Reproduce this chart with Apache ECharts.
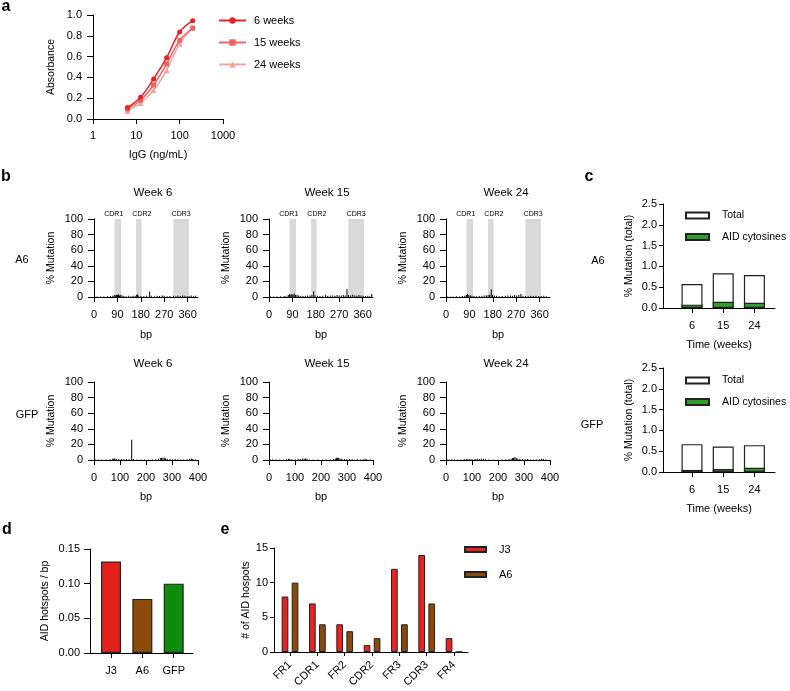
<!DOCTYPE html>
<html><head><meta charset="utf-8">
<script src="https://cdn.jsdelivr.net/npm/echarts@6/dist/echarts.min.js"></script>
<style>html,body{margin:0;padding:0;background:#fff}#c{width:790px;height:691px}</style>
</head><body><div id="c"></div>
<script>
// ---------- Panel a ----------
const iggConc = [6.25, 12.5, 25, 50, 100, 200];
const abs6w = [0.11, 0.21, 0.385, 0.59, 0.837, 0.945];
const abs15w = [0.096, 0.18, 0.327, 0.53, 0.756, 0.875];
const abs24w = [0.077, 0.154, 0.276, 0.468, 0.724, 0.875];
const weekNames = ['6 weeks', '15 weeks', '24 weeks'];

// ---------- Panel b (position bp, % mutation) ----------
const cdrRegions = [['CDR1', 79, 104], ['CDR2', 162, 183], ['CDR3', 305, 365]];
const bTicksA6 = [0, 90, 180, 270, 360];
const bTicksGFP = [0, 100, 200, 300, 400];
const a6w6 = [[4,0.8],[12,0.5],[25,0.6],[38,0.8],[52,1],[63,1.2],[72,1.5],[78,2.5],[82,2],[86,3],[90,2.5],[94,3.5],[98,2],[103,3],[108,2],[115,1.2],[124,1],[133,1.5],[142,1],[150,1.5],[158,1.2],[163,2.5],[167,3.5],[172,1.5],[180,1],[192,1.2],[203,1.5],[214,7],[220,1.5],[232,1],[243,1.5],[252,1.2],[262,1.8],[270,1.5],[281,1],[292,1.2],[306,1.5],[315,1],[323,1.8],[332,1.2],[341,2],[350,1.5],[358,1],[366,1.2],[374,1.8],[382,1],[390,1.5]];
const a6w15 = [[6,0.8],[18,0.6],[30,0.7],[45,1],[58,1.2],[66,1],[74,2.5],[79,3.5],[84,3],[88,4],[92,3],[97,4.5],[102,2.5],[108,3],[114,2],[122,1.5],[131,1.2],[140,1.5],[149,1.8],[158,2],[165,2.5],[172,7.5],[177,2],[186,1.5],[196,1.2],[207,1.5],[218,3],[226,1.2],[236,1.8],[245,2],[254,1.5],[262,2.5],[270,2],[278,1.8],[286,2.5],[293,2],[300,10],[306,2.5],[314,2],[322,3],[330,2],[338,1.5],[346,2.5],[354,2],[362,1.5],[371,1.2],[380,1.5],[388,1],[395,4]];
const a6w24 = [[5,0.8],[16,0.6],[28,0.8],[40,1],[52,0.8],[63,1.2],[72,1.5],[78,2.5],[83,4],[88,2.5],[94,2],[100,1.5],[108,1.2],[118,1],[128,1.2],[138,1.5],[147,1.8],[155,2],[162,2.5],[168,3],[174,10],[179,2.5],[186,2],[194,1.5],[204,1],[216,1.2],[228,1.5],[238,1.8],[248,2],[256,1.5],[264,2.5],[272,2],[280,2.5],[288,4],[296,1.5],[306,1.2],[316,1],[326,1.5],[336,1.2],[346,1.5],[356,1],[366,1.2],[376,1.5],[386,1]];
const gfpw6 = [[5,0.7],[18,0.6],[30,0.8],[48,0.5],[62,1],[72,1.5],[76,2],[80,1.8],[86,1.2],[95,1],[105,1.2],[115,1],[125,1.2],[135,1],[145,26],[152,1.2],[165,0.8],[180,0.6],[195,0.8],[210,0.6],[225,0.8],[238,1],[248,1.5],[255,2.5],[260,3],[265,2.8],[270,3],[275,2.2],[282,1.5],[292,1.2],[302,1],[312,1.2],[322,1],[332,0.8],[345,0.8],[358,1],[368,1.5],[374,1.8],[380,1.2],[390,0.8]];
const gfpw15 = [[6,0.8],[15,1],[28,0.6],[42,0.8],[55,0.6],[68,1.2],[75,1.5],[80,1.2],[88,1],[100,1],[112,1.5],[120,1.2],[128,1.8],[135,1.5],[140,2],[146,1.5],[155,0.8],[170,0.6],[188,0.6],[205,0.8],[220,0.6],[235,0.8],[248,1.2],[255,2],[260,3],[264,2.5],[268,3],[273,2],[280,1.5],[290,1.2],[300,1],[310,1.2],[320,1],[330,0.8],[340,1],[352,0.8],[362,1],[370,1.5],[376,1],[388,0.8]];
const gfpw24 = [[4,1],[12,0.8],[22,1],[32,0.6],[45,0.8],[58,0.6],[70,1.2],[78,1.5],[84,1.2],[92,1.5],[100,1],[112,1.2],[120,1.5],[128,1.2],[136,1.8],[144,1.5],[152,1],[165,0.6],[182,0.6],[200,0.8],[215,0.6],[230,1],[242,1.2],[250,1.5],[256,2.5],[260,3],[265,3.5],[270,2.5],[276,2],[284,1.5],[294,1.2],[304,1],[314,1.2],[324,0.8],[336,0.8],[348,0.6],[360,1],[368,1.5],[374,1.2],[384,0.8]];

// ---------- Panel c ----------
const timeWeeks = ['6', '15', '24'];
const a6Total = [0.577, 0.833, 0.793];
const a6Aid = [0.08, 0.152, 0.128];
const gfpTotal = [0.67, 0.61, 0.645];
const gfpAid = [0.05, 0.072, 0.1];

// ---------- Panel d ----------
const dCats = ['J3', 'A6', 'GFP'];
const dVals = [0.132, 0.078, 0.1];

// ---------- Panel e ----------
const eCats = ['FR1', 'CDR1', 'FR2', 'CDR2', 'FR3', 'CDR3', 'FR4'];
const eJ3 = [8, 7, 4, 1, 12, 14, 2];
const eA6 = [10, 4, 3, 2, 4, 7, 0];

const FONT = 'Liberation Sans, Arial, sans-serif';
const BLACK = '#000';

function yAx(g, min, max, interval, name, gap, fmt, margin, tickLen) {
  return {type: 'value', gridIndex: g, min, max, interval,
    axisLine: {show: true, onZero: false, lineStyle: {color: BLACK, width: 1}},
    axisTick: {show: true, length: tickLen, lineStyle: {color: BLACK}},
    splitLine: {show: false},
    axisLabel: {color: BLACK, fontSize: 11, fontFamily: FONT, margin, formatter: fmt},
    name, nameLocation: 'middle', nameGap: gap,
    nameTextStyle: {color: BLACK, fontSize: 10.5, fontFamily: FONT}};
}
function xValAx(g, min, max, ticks, fmt, name, gap, tickLen, rotate, margin) {
  return {type: 'value', gridIndex: g, min, max,
    axisLine: {show: true, onZero: false, lineStyle: {color: BLACK, width: 1}},
    axisTick: {show: true, length: tickLen, customValues: ticks, lineStyle: {color: BLACK}},
    splitLine: {show: false},
    axisLabel: {color: BLACK, fontSize: 11, fontFamily: FONT, margin: margin || 12, customValues: ticks, formatter: fmt, rotate: rotate || 0},
    name, nameLocation: 'middle', nameGap: gap,
    nameTextStyle: {color: BLACK, fontSize: 11, fontFamily: FONT}};
}

const grids = [
  {left: 93, top: 15, width: 130, height: 104},     // 0 a
  {left: 94, top: 219, width: 104, height: 78},     // 1 b A6 w6
  {left: 269, top: 219, width: 104, height: 78},    // 2 b A6 w15
  {left: 446, top: 219, width: 104, height: 78},    // 3 b A6 w24
  {left: 94, top: 382, width: 104, height: 78},     // 4 b GFP w6
  {left: 269, top: 382, width: 104, height: 78},    // 5 b GFP w15
  {left: 446, top: 382, width: 104, height: 78},    // 6 b GFP w24
  {left: 663, top: 204, width: 112, height: 104},   // 7 c A6
  {left: 663, top: 368, width: 112, height: 104},   // 8 c GFP
  {left: 90, top: 549, width: 103, height: 104},    // 9 d
  {left: 274, top: 548, width: 194, height: 104}    // 10 e
];

const xAxes = [], yAxes = [];
// a
xAxes.push({type: 'log', gridIndex: 0, min: 1, max: 1000, logBase: 10,
  axisLine: {show: true, onZero: false, lineStyle: {color: BLACK}},
  axisTick: {show: true, length: 5, lineStyle: {color: BLACK}},
  minorTick: {show: false}, splitLine: {show: false},
  axisLabel: {color: BLACK, fontSize: 11, fontFamily: FONT, margin: 11, formatter: v => String(v)},
  name: 'IgG (ng/mL)', nameLocation: 'middle', nameGap: 30,
  nameTextStyle: {color: BLACK, fontSize: 11, fontFamily: FONT}});
yAxes.push(yAx(0, 0, 1, 0.2, 'Absorbance', 36, v => v.toFixed(1), 11, 6));
// b
for (let i = 0; i < 6; i++) {
  const top = i < 3;
  xAxes.push(xValAx(i + 1, 0, 400, top ? bTicksA6 : bTicksGFP, v => String(v), 'bp', top ? 32 : 31, 5));
  yAxes.push(yAx(i + 1, 0, 100, 20, '% Mutation', 37, v => String(v), 11, 6));
}
// c
for (let i = 0; i < 2; i++) {
  xAxes.push(xValAx(7 + i, -0.93, 2.66, [0, 1, 2], v => timeWeeks[Math.round(v)], 'Time (weeks)', 31, 5));
  yAxes.push(yAx(7 + i, 0, 2.5, 0.5, '% Mutation (total)', 28, v => v.toFixed(1), 6, 4));
}
// d
xAxes.push(xValAx(9, -0.67, 2.616, [0, 1, 2], v => dCats[Math.round(v)], '', 0, 5));
yAxes.push(yAx(9, 0, 0.15, 0.05, 'AID hotspots / bp', 39, v => v.toFixed(2), 10, 6));
// e
xAxes.push(xValAx(10, -0.586, 6.51, [0, 1, 2, 3, 4, 5, 6], v => eCats[Math.round(v)], '', 0, 4, 45, 11));
yAxes.push(yAx(10, 0, 15, 5, '# of AID hospots', 22, v => String(v), 6, 4));

const series = [];
// a lines
const aColors = ['#E52426', '#EE6464', '#F5A3A3'];
const aSymbols = ['circle', 'rect', 'triangle'];
[abs6w, abs15w, abs24w].forEach((arr, k) => {
  series.push({type: 'line', name: weekNames[k], xAxisIndex: 0, yAxisIndex: 0,
    data: iggConc.map((x, i) => [x, arr[i]]), smooth: 0.35,
    symbol: aSymbols[k], symbolSize: k === 2 ? 6 : 5,
    lineStyle: {color: aColors[k], width: 1.5}, itemStyle: {color: aColors[k]}, z: 5 - k});
});
// b spikes
const cdrLabelShift = [-4, 3, 0];
const bData = [a6w6, a6w15, a6w24, gfpw6, gfpw15, gfpw24];
bData.forEach((arr, i) => {
  const s = {type: 'bar', xAxisIndex: i + 1, yAxisIndex: i + 1, data: arr,
    barWidth: 1, itemStyle: {color: BLACK}, silent: true};
  if (i < 3) {
    s.markArea = {silent: true, itemStyle: {color: '#D9D9D9'},
      label: {show: true, position: 'top', distance: 1, fontSize: 7, color: BLACK, fontFamily: FONT},
      data: cdrRegions.map((r, k) => [{name: r[0], xAxis: r[1], label: {offset: [cdrLabelShift[k], 0]}}, {xAxis: r[2]}])};
  }
  series.push(s);
});
// c bars
[[a6Total, a6Aid], [gfpTotal, gfpAid]].forEach((pair, k) => {
  series.push({type: 'bar', name: 'Total', xAxisIndex: 7 + k, yAxisIndex: 7 + k,
    data: pair[0].map((v, i) => [i, v]), barWidth: 21, barGap: '-100%',
    itemStyle: {color: '#fff', borderColor: '#222', borderWidth: 1.2}});
  series.push({type: 'bar', name: 'AID cytosines', xAxisIndex: 7 + k, yAxisIndex: 7 + k,
    data: pair[1].map((v, i) => [i, v]), barWidth: 21, barGap: '-100%',
    itemStyle: {color: '#2E9F2E', borderColor: '#222', borderWidth: 1.2}});
});
// d bars
const dColors = ['#E3221C', '#8E4C0A', '#0E8C0E'];
series.push({type: 'bar', xAxisIndex: 9, yAxisIndex: 9, barWidth: 20,
  data: dVals.map((v, i) => ({value: [i, v], itemStyle: {color: dColors[i]}})),
  itemStyle: {borderColor: '#222', borderWidth: 1.2}});
// e bars
series.push({type: 'bar', name: 'J3', xAxisIndex: 10, yAxisIndex: 10, barWidth: 6.7, barGap: '50%',
  data: eJ3.map((v, i) => [i, v]), itemStyle: {color: '#E8221E', borderColor: '#222', borderWidth: 1}});
series.push({type: 'bar', name: 'A6', xAxisIndex: 10, yAxisIndex: 10, barWidth: 6.7, barGap: '50%',
  data: eA6.map((v, i) => [i, v]), itemStyle: {color: '#8B4A0B', borderColor: '#222', borderWidth: 1}});

function txt(x, y, text, size, bold) {
  return {type: 'text', x, y, silent: true,
    style: {text, fill: BLACK, font: (bold ? 'bold ' : '') + size + 'px ' + FONT, align: 'center', verticalAlign: 'middle'}};
}
const graphics = [
  txt(6, 7, 'a', 16, true), txt(6, 177, 'b', 16, true), txt(589, 177, 'c', 16, true),
  txt(7, 530, 'd', 16, true), txt(225, 530, 'e', 16, true),
  txt(153, 193, 'Week 6', 11.5), txt(327, 193, 'Week 15', 11.5), txt(506, 193, 'Week 24', 11.5),
  txt(153, 364, 'Week 6', 11.5), txt(327, 364, 'Week 15', 11.5), txt(506, 364, 'Week 24', 11.5),
  txt(22, 260, 'A6', 11), txt(27, 415, 'GFP', 11),
  txt(598, 261, 'A6', 11), txt(592, 425, 'GFP', 11)
];

const legText = {fontSize: 11, fontFamily: FONT, color: BLACK};
const option = {
  animation: false,
  backgroundColor: '#fff',
  grid: grids, xAxis: xAxes, yAxis: yAxes, series,
  legend: [
    {left: 218, top: 15, padding: 0, orient: 'vertical', data: weekNames, itemWidth: 27, itemHeight: 8, itemGap: 11,
      selectedMode: false, textStyle: Object.assign({padding: [0, 0, 0, 3]}, legText)},
    {left: 685, top: 210, padding: 0, orient: 'vertical', data: ['Total', 'AID cytosines'], icon: 'rect', itemWidth: 23, itemHeight: 6, itemGap: 10.5,
      selectedMode: false, textStyle: Object.assign({padding: [0, 0, 0, 8]}, legText, {fontSize: 10.5})},
    {left: 685, top: 375, padding: 0, orient: 'vertical', data: ['Total', 'AID cytosines'], icon: 'rect', itemWidth: 23, itemHeight: 6, itemGap: 10.5,
      selectedMode: false, textStyle: Object.assign({padding: [0, 0, 0, 8]}, legText, {fontSize: 10.5})},
    {left: 464, top: 544, padding: 0, orient: 'vertical', data: ['J3', 'A6'], icon: 'rect', itemWidth: 21, itemHeight: 5, itemGap: 14,
      selectedMode: false, textStyle: Object.assign({padding: [0, 0, 0, 8]}, legText)}
  ],
  graphic: graphics
};
const chart = echarts.init(document.getElementById('c'), null, {renderer: 'canvas'});
chart.setOption(option);
</script></body></html>
